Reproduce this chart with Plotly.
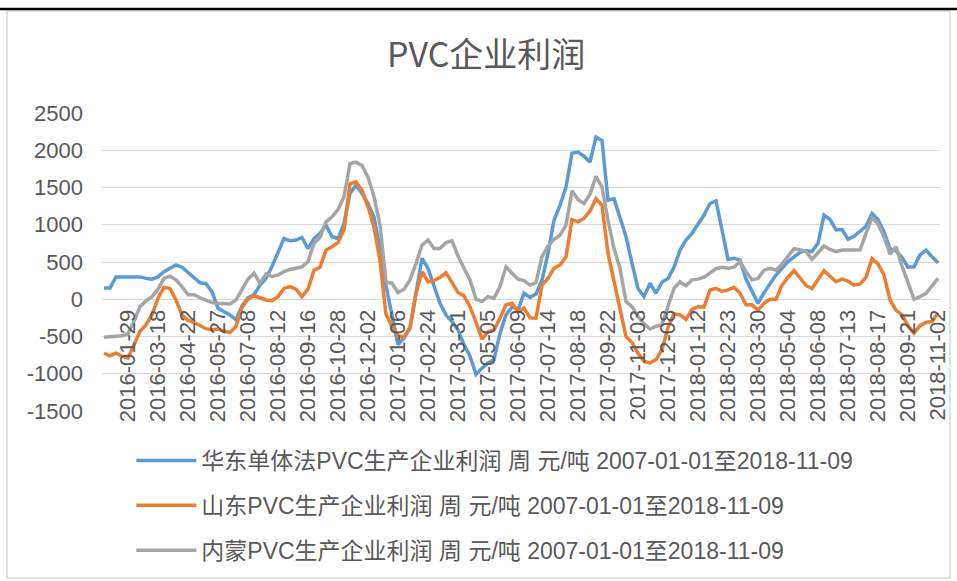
import plotly.graph_objects as go

# weekly dates (Fridays, holiday weeks missing)
dates = [
    "2016-01-01", "2016-01-08", "2016-01-15", "2016-01-22", "2016-01-29", "2016-02-19", "2016-02-26", "2016-03-04", "2016-03-11", "2016-03-18",
    "2016-03-25", "2016-04-01", "2016-04-08", "2016-04-15", "2016-04-22", "2016-04-29", "2016-05-06", "2016-05-13", "2016-05-20", "2016-05-27",
    "2016-06-03", "2016-06-17", "2016-06-24", "2016-07-01", "2016-07-08", "2016-07-15", "2016-07-22", "2016-07-29", "2016-08-05", "2016-08-12",
    "2016-08-19", "2016-08-26", "2016-09-02", "2016-09-09", "2016-09-16", "2016-09-23", "2016-09-30", "2016-10-14", "2016-10-21", "2016-10-28",
    "2016-11-04", "2016-11-11", "2016-11-18", "2016-11-25", "2016-12-02", "2016-12-09", "2016-12-16", "2016-12-23", "2016-12-30", "2017-01-06",
    "2017-01-13", "2017-01-20", "2017-02-10", "2017-02-17", "2017-02-24", "2017-03-03", "2017-03-10", "2017-03-17", "2017-03-24", "2017-03-31",
    "2017-04-07", "2017-04-14", "2017-04-21", "2017-04-28", "2017-05-05", "2017-05-12", "2017-05-19", "2017-05-26", "2017-06-02", "2017-06-09",
    "2017-06-16", "2017-06-23", "2017-06-30", "2017-07-07", "2017-07-14", "2017-07-21", "2017-07-28", "2017-08-04", "2017-08-11", "2017-08-18",
    "2017-08-25", "2017-09-01", "2017-09-08", "2017-09-15", "2017-09-22", "2017-09-29", "2017-10-13", "2017-10-20", "2017-10-27", "2017-11-03",
    "2017-11-10", "2017-11-17", "2017-11-24", "2017-12-01", "2017-12-08", "2017-12-15", "2017-12-22", "2017-12-29", "2018-01-05", "2018-01-12",
    "2018-01-19", "2018-01-26", "2018-02-02", "2018-02-09", "2018-02-23", "2018-03-02", "2018-03-09", "2018-03-16", "2018-03-23", "2018-03-30",
    "2018-04-06", "2018-04-13", "2018-04-20", "2018-04-27", "2018-05-04", "2018-05-11", "2018-05-18", "2018-05-25", "2018-06-01", "2018-06-08",
    "2018-06-15", "2018-06-22", "2018-06-29", "2018-07-06", "2018-07-13", "2018-07-20", "2018-07-27", "2018-08-03", "2018-08-10", "2018-08-17",
    "2018-08-24", "2018-08-31", "2018-09-07", "2018-09-14", "2018-09-21", "2018-09-28", "2018-10-12", "2018-10-19", "2018-10-26", "2018-11-02",
]

tick_labels = [
    "2016-01-29", "2016-03-18", "2016-04-22", "2016-05-27", "2016-07-08", "2016-08-12", "2016-09-16",
    "2016-10-28", "2016-12-02", "2017-01-06", "2017-02-24", "2017-03-31", "2017-05-05", "2017-06-09",
    "2017-07-14", "2017-08-18", "2017-09-22", "2017-11-03", "2017-12-08", "2018-01-12", "2018-02-23",
    "2018-03-30", "2018-05-04", "2018-06-08", "2018-07-13", "2018-08-17", "2018-09-21", "2018-11-02",
]

y_ticks = [2500, 2000, 1500, 1000, 500, 0, -500, -1000, -1500]
y_tick_text = ["2500", "2000", "1500", "1000", "500", "0", "-500", "-1000", "-1500"]

huadong = [
    150, 150, 300, 300, 300, 310, 300, 280, 270, 300,
    370, 415, 460, 430, 360, 280, 220, 210, 100, -120,
    -165, -210, -275, -90, 20, 60, 190, 280, 440, 615,
    815, 785, 795, 830, 680, 815, 885, 995, 840, 815,
    1015, 1420, 1530, 1420, 1285, 1105, 680, 180, -210, -610,
    -520, -390, 80, 550, 415, 190, -55, -210, -300, -410,
    -610, -765, -1010, -925, -855, -810, -455, -210, -100, -145,
    80, 25, 70, 260, 615, 1060, 1260, 1505, 1960, 1975,
    1920, 1840, 2175, 2130, 1330, 1350, 1105, 840, 480, 145,
    35, 215, 80, 230, 280, 430, 660, 795, 885, 1015,
    1130, 1285, 1320, 930, 535, 550, 525, 270, 105, -55,
    90, 215, 325, 415, 505, 570, 630, 650, 640, 750,
    1130, 1070, 930, 935, 805, 845, 920, 980, 1150, 1070,
    905, 680, 650, 560, 430, 435, 595, 660, 570, 490,
]

shandong = [
    -725, -760, -725, -765, -790, -610, -430, -345, -210, 15,
    160, 145, -10, -210, -285, -310, -350, -395, -410, -400,
    -430, -445, -365, -110, 0, 50, 20, -10, -20, 35,
    145, 170, 135, 35, 135, 390, 430, 660, 705, 760,
    930, 1550, 1575, 1465, 1240, 970, 520, -200, -365, -490,
    -510, -375, 80, 370, 235, 250, 295, 355, 225, 90,
    45, -100, -310, -535, -435, -410, -255, -75, -55, -165,
    -120, -250, -255, 190, 280, 415, 460, 570, 1070, 1040,
    1085, 1185, 1350, 1260, 615, 260, -100, -500, -580, -725,
    -835, -855, -810, -680, -380, -195, -210, -270, -135, -100,
    -105, 125, 145, 105, 125, 160, 80, -75, -75, -145,
    -55, 0, 0, 190, 295, 385, 285, 185, 145, 260,
    385, 310, 235, 270, 245, 190, 205, 295, 545, 475,
    325, -10, -145, -210, -355, -455, -355, -310, -300, -185,
]

neimeng = [
    -510, -500, -490, -490, -465, -300, -100, -20, 35, 135,
    280, 310, 260, 170, 60, 60, 20, -10, -45, -55,
    -55, -65, -10, 130, 270, 350, 215, 340, 305, 325,
    370, 400, 415, 435, 505, 750, 830, 1040, 1105, 1205,
    1375, 1820, 1840, 1795, 1640, 1375, 1000, 235, 215, 90,
    135, 260, 480, 725, 795, 680, 680, 760, 785, 580,
    415, 260, 0, -30, 35, 15, 170, 435, 350, 270,
    250, 190, 225, 570, 715, 805, 860, 995, 1455, 1340,
    1285, 1410, 1650, 1505, 1060, 680, 415, -30, -100, -230,
    -330, -400, -365, -340, -90, 145, 235, 180, 260, 270,
    295, 350, 410, 430, 415, 430, 505, 370, 260, 280,
    390, 415, 390, 475, 580, 680, 665, 640, 535, 625,
    715, 670, 640, 660, 660, 660, 660, 885, 1095, 1010,
    840, 605, 705, 445, 235, 0, 35, 80, 180, 280,
]

series = [
    ("华东单体法PVC生产企业利润 周 元/吨 2007-01-01至2018-11-09", huadong, "#5B9BD5"),
    ("山东PVC生产企业利润 周 元/吨 2007-01-01至2018-11-09", shandong, "#ED7D31"),
    ("内蒙PVC生产企业利润 周 元/吨 2007-01-01至2018-11-09", neimeng, "#A5A5A5"),
]

FONT = "Liberation Sans, Noto Sans CJK SC, sans-serif"
TEXT = "#595959"

data = [go.Scatter(name=name, x=dates, y=vals, mode="lines", legendgroup=name,
                   line={"color": color, "width": 3.5})
        for name, vals, color in series]

layout = go.Layout(
    width=957, height=581,
    margin={"l": 102, "r": 17, "t": 113, "b": 170, "autoexpand": False},
    paper_bgcolor="white", plot_bgcolor="white",
    font={"family": FONT, "color": TEXT},
    title={"text": "PVC企业利润", "x": 0.508, "xanchor": "center", "y": 0.905, "yanchor": "middle",
           "font": {"size": 34, "color": TEXT, "family": "Noto Sans CJK SC, sans-serif"}},
    xaxis={"type": "category", "range": [-0.33, 139.33], "tickmode": "array",
           "tickvals": tick_labels, "ticktext": tick_labels, "tickangle": -90,
           "anchor": "free", "position": 0.375, "showgrid": False, "showline": False,
           "zeroline": False, "ticks": "", "ticklabelstandoff": 5, "automargin": False,
           "tickfont": {"size": 22, "color": TEXT}},
    yaxis={"range": [-1500, 2500], "tickmode": "array", "tickvals": y_ticks,
           "ticktext": y_tick_text, "showgrid": True, "gridcolor": "#D9D9D9",
           "gridwidth": 1, "zeroline": False, "showline": False, "ticks": "",
           "automargin": False, "ticklabelstandoff": 18,
           "tickfont": {"size": 22, "color": TEXT}},
    showlegend=True,
    legend={"orientation": "v", "x": 0.035, "xanchor": "left", "y": -0.094, "yanchor": "top",
            "font": {"size": 23, "color": TEXT}, "tracegroupgap": 12, "itemwidth": 60,
            "bgcolor": "rgba(0,0,0,0)"},
    shapes=[
        {"type": "rect", "xref": "paper", "yref": "paper", "x0": -0.1134, "x1": 1.0119,
         "y0": -0.5604, "y1": 1.3423, "line": {"color": "#D9D9D9", "width": 1.5}},
        {"type": "line", "xref": "paper", "yref": "paper", "x0": -0.13, "x1": 1.03,
         "y0": 1.349, "y1": 1.349, "line": {"color": "black", "width": 2.5}},
    ],
)

fig = go.Figure(data=data, layout=layout)
fig.write_html("out.html", config={"displayModeBar": False},
               post_script="document.body.style.margin='0';")
